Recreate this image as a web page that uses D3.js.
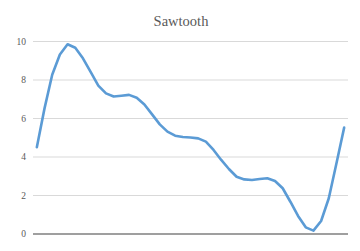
<!DOCTYPE html>
<html>
<head>
<meta charset="utf-8">
<script src="https://cdn.jsdelivr.net/npm/d3@7"></script>
<style>
body { margin:0; background:#fff; }
</style>
</head>
<body>
<div id="chart"></div>
<script>
var title = "Sawtooth";
var values = [4.48, 6.5, 8.25, 9.3, 9.83, 9.65, 9.1, 8.4, 7.68, 7.28,
  7.12, 7.16, 7.2, 7.05, 6.7, 6.19, 5.67, 5.29, 5.08, 5.01,
  4.99, 4.94, 4.77, 4.34, 3.82, 3.35, 2.95, 2.81, 2.78, 2.83,
  2.87, 2.73, 2.35, 1.65, 0.91, 0.32, 0.15, 0.65, 1.83, 3.65, 5.5];
var categories = values.map(function(d, i){ return i + 1; });
var yTicks = [0, 2, 4, 6, 8, 10];

var width = 360, height = 251;
var margin = {top:41, left:33, right:12, bottom:18};

var svg = d3.select("#chart")
  .append("svg")
  .attr("width", width)
  .attr("height", height);

var x = d3.scaleBand()
  .domain(categories)
  .range([margin.left, width - margin.right]);

var y = d3.scaleLinear()
  .domain([0, 10])
  .range([height - margin.bottom + 0.5, margin.top]);

svg.append("text")
  .attr("x", 181)
  .attr("y", 25.5)
  .attr("text-anchor", "middle")
  .attr("font-family", "Liberation Serif, Times New Roman, serif")
  .attr("font-size", 14.5)
  .attr("fill", "#595959")
  .text(title);

// gridlines
var yAxis = svg.append("g")
  .attr("transform", "translate(" + margin.left + ",0)")
  .call(d3.axisLeft(y)
    .tickValues(yTicks)
    .tickSize(-(width - margin.left - margin.right))
    .tickPadding(7));
yAxis.select(".domain").remove();
yAxis.selectAll(".tick line")
  .attr("stroke", function(d){ return d == 0 ? "#404040" : "#d9d9d9"; })
  .attr("stroke-width", function(d){ return d == 0 ? 1.2 : 1; });
yAxis.selectAll(".tick text")
  .attr("font-family", "Liberation Serif, Times New Roman, serif")
  .attr("font-size", 9.5)
  .attr("fill", "#595959");

var line = d3.line()
  .x(function(d, i){ return x(categories[i]) + x.bandwidth() / 2; })
  .y(function(d){ return y(d); });

svg.append("path")
  .datum(values)
  .attr("d", line)
  .attr("fill", "none")
  .attr("stroke", "#5B9BD5")
  .attr("stroke-width", 2.6)
  .attr("stroke-linejoin", "round")
  .attr("stroke-linecap", "round");
</script>
</body>
</html>
